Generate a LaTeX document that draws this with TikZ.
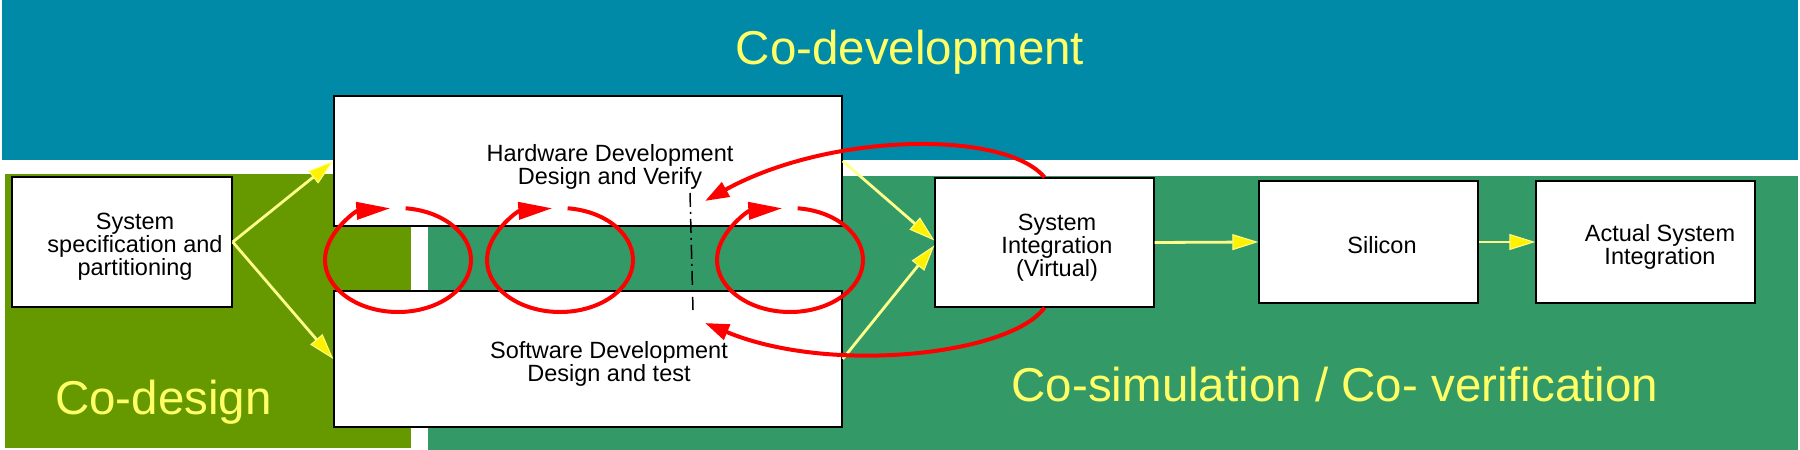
\documentclass[tikz,border=0pt]{standalone}
\usepackage{fontspec}
\setmainfont{Liberation Sans}
\usetikzlibrary{arrows.meta}
\definecolor{bandblue}{RGB}{0,138,168}
\definecolor{olivegreen}{RGB}{102,153,0}
\definecolor{seagreen}{RGB}{51,153,102}
\definecolor{lightyel}{RGB}{255,255,102}
\definecolor{arrowyel}{RGB}{255,255,140}
\begin{document}
\begin{tikzpicture}[x=1pt,y=1pt,
  box/.style={draw=black, line width=1.4pt, fill=white, inner sep=0pt},
  txt/.style={font=\fontsize{23.5}{21.5}\selectfont, align=center, inner sep=0pt},
  big/.style={font=\fontsize{47.5}{50}\selectfont, text=lightyel, inner sep=0pt, anchor=base},
  yarrow/.style={draw=arrowyel, line width=2.8pt, -{Triangle[length=26pt,width=16pt,fill=yellow,line width=1pt]}},
  loopar/.style={draw=red, line width=4pt, -{Triangle[length=34pt,width=17pt]}},
  rarrow/.style={draw=red, line width=4pt, -{Triangle[length=24pt,width=16pt]}},
  dashdot/.style={draw=black, line width=1.5pt, dash pattern=on 14pt off 5pt on 2pt off 5pt},
]
\useasboundingbox (0,0) rectangle (1800,450);
\fill[white] (0,0) rectangle (1800,450);
\fill[bandblue] (2,290) rectangle (1798,450);
\fill[olivegreen] (5,2) rectangle (411,276);
\fill[seagreen] (428,0) rectangle (1798,274);

\node[big] (codev) at (910,385) {Co-development};
\node[big] (codes) at (163.5,35) {Co-design};
\node[big] (cosim) at (1335,48) {Co-simulation / Co- verification};

\node[box, minimum width=220, minimum height=130] (spec) at (122,208) {};
\node[box, minimum width=508, minimum height=130] (hw) at (588,289) {};
\node[box, minimum width=508, minimum height=136] (sw) at (588,91) {};
\node[box, minimum width=219, minimum height=129] (sysint) at (1044.5,207.5) {};
\node[box, minimum width=219, minimum height=122] (silicon) at (1368.5,208) {};
\node[box, minimum width=219, minimum height=122] (actual) at (1645.5,208) {};

\node[txt] (spectxt) at (135,203) {System\\specification and\\partitioning};
\node[txt] (hwtxt) at (610,283.5) {Hardware Development\\Design and Verify};
\node[txt] (swtxt) at (609,86.5) {Software Development\\Design and test};
\node[txt] (sysinttxt) at (1057,202.5) {System\\Integration\\(Virtual)};
\node[txt] (silicontxt) at (1382,204.5) {Silicon};
\node[txt] (actualtxt) at (1660,203) {Actual System\\Integration};

\draw[yarrow] (spec.east) -- (hw.west);
\draw[yarrow] (spec.east) -- (sw.west);
\draw[yarrow] (hw.east) -- ([yshift=2]sysint.west);
\draw[yarrow] (sw.east) -- ([yshift=-3]sysint.west);
\draw[yarrow] (sysint.east) -- (silicon.west);
\draw[yarrow] (silicon.east) -- (actual.west);

\draw[dashdot] (690,257) -- (693,140);

\foreach \cx in {398,560,790}
  \draw[loopar] ([shift={(84:73 and 52)}]\cx,190) arc[start angle=84,end angle=-264,x radius=73,y radius=52];

\coordinate (hwtip) at (705,249);
\coordinate (swtip) at (705,127);
\draw[rarrow] (sysint.north) .. controls (1005,320) and (830,318) .. (hwtip);
\draw[rarrow] (sysint.south) .. controls (1010,95) and (830,75) .. (swtip);
\end{tikzpicture}
\end{document}
